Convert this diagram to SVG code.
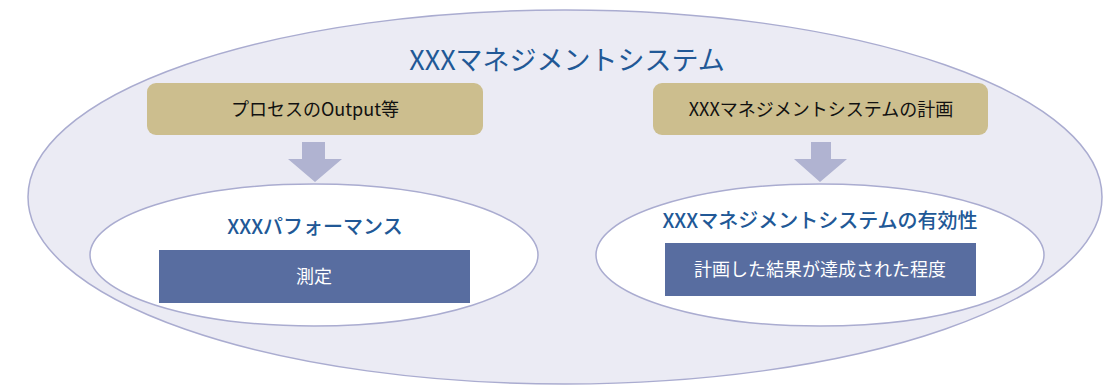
<svg xmlns="http://www.w3.org/2000/svg" width="1106" height="385" viewBox="0 0 1106 385">
<style>
text{font-family:"Noto Sans CJK JP","Noto Sans",sans-serif;text-anchor:middle}
.outer{fill:#EBEBF4;stroke:#AAACD0;stroke-width:1.5}
.inner{fill:#FFFFFF;stroke:#AAACD0;stroke-width:1.5}
.tan{fill:#CCBE8E}
.blue{fill:#586DA0}
.arrow{fill:#B0B3D1}
.title{fill:#215896;font-size:27px}
.sub{fill:#215896;font-size:20px;font-weight:500}
.dark{fill:#111111;font-size:18px}
.white{fill:#FFFFFF;font-size:18px}
</style>
<g id="system">
<ellipse class="outer" cx="565" cy="197" rx="537" ry="187"/>
<text class="title" x="567" y="70">XXXマネジメントシステム</text>
</g>
<g id="output">
<rect class="tan" x="147" y="83" width="336" height="52" rx="9"/>
<text class="dark" x="315" y="116">プロセスのOutput等</text>
</g>
<g id="plan">
<rect class="tan" x="653" y="83" width="335" height="52" rx="9"/>
<text class="dark" x="821" y="116">XXXマネジメントシステムの計画</text>
</g>
<g id="connectors">
<polygon class="arrow" points="302,142 325,142 325,159 342,159 315,182 288,159 302,159"/>
<polygon class="arrow" points="811,142 831,142 831,159 847,159 820,182 794,159 811,159"/>
</g>
<g id="performance">
<ellipse class="inner" cx="314" cy="255" rx="224" ry="71"/>
<text class="sub" x="315" y="234" font-size="21">XXXパフォーマンス</text>
<rect class="blue" x="159" y="250" width="311" height="53"/>
<text class="white" x="314" y="283">測定</text>
</g>
<g id="effectiveness">
<ellipse class="inner" cx="820" cy="255" rx="224" ry="71"/>
<text class="sub" x="820" y="228">XXXマネジメントシステムの有効性</text>
<rect class="blue" x="665" y="243" width="311" height="53"/>
<text class="white" x="820" y="276">計画した結果が達成された程度</text>
</g>
</svg>
